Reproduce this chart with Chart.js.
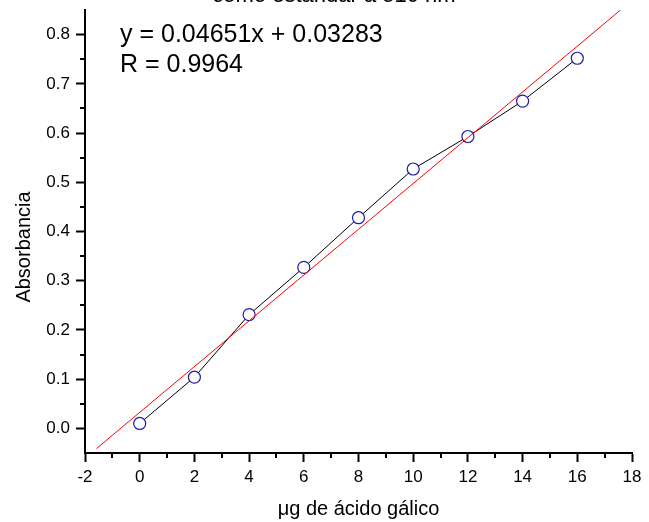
<!DOCTYPE html>
<html>
<head>
<meta charset="utf-8">
<script src="https://cdn.jsdelivr.net/npm/chart.js@4/dist/chart.umd.min.js"></script>
<style>
    html, body { margin: 0; padding: 0; background: #fff; }
    #wrap { width: 649px; height: 522px; }
</style>
</head>
<body>
<div id="wrap"><canvas id="grafico"></canvas></div>
<script>
// datos
const concentracion = [0, 2, 4, 6, 8, 10, 12, 14, 16];
const absorbancia = [0.010, 0.104, 0.231, 0.327, 0.428, 0.527, 0.593, 0.665, 0.752];
const ajusteX = [-1.58, 17.58];
const ajusteY = [-0.041, 0.850];
const xTicks = [-2, 0, 2, 4, 6, 8, 10, 12, 14, 16, 18];
const yTicks = [0.0, 0.1, 0.2, 0.3, 0.4, 0.5, 0.6, 0.7, 0.8];
const xMinor = [-1, 1, 3, 5, 7, 9, 11, 13, 15, 17];
const yMinor = [0.05, 0.15, 0.25, 0.35, 0.45, 0.55, 0.65, 0.75];

const fuente = "'Liberation Sans', Arial, sans-serif";

const extras = {
    id: "extras",
    afterDraw(chart) {
        const ctx = chart.ctx;
        const xs = chart.scales.x;
        const ys = chart.scales.y;
        const area = chart.chartArea;
        ctx.save();
        ctx.strokeStyle = "#000";
        ctx.lineWidth = 2;
        xMinor.forEach(function (v) {
            const px = Math.round(xs.getPixelForValue(v));
            ctx.beginPath();
            ctx.moveTo(px, area.bottom);
            ctx.lineTo(px, area.bottom + 5);
            ctx.stroke();
        });
        yMinor.forEach(function (v) {
            const py = Math.round(ys.getPixelForValue(v));
            ctx.beginPath();
            ctx.moveTo(area.left - 5, py);
            ctx.lineTo(area.left, py);
            ctx.stroke();
        });

        ctx.fillStyle = "#000";
        ctx.textBaseline = "alphabetic";
        // titulo cortado arriba
        ctx.font = "22px " + fuente;
        ctx.textAlign = "center";
        ctx.fillText("como estándar a 510 nm", 334, 1.5);

        // ecuacion del ajuste
        ctx.font = "25px " + fuente;
        ctx.textAlign = "left";
        ctx.fillText("y = 0.04651x + 0.03283", 120, 42);
        ctx.fillText("R = 0.9964", 120, 71.5);

        // titulo eje y
        ctx.font = "20px " + fuente;
        ctx.translate(24, 247);
        ctx.rotate(-Math.PI / 2);
        ctx.textAlign = "center";
        ctx.textBaseline = "middle";
        ctx.fillText("Absorbancia", 0, 0);
        ctx.restore();
    },
};

const ctx = document.getElementById("grafico").getContext("2d");

new Chart(ctx, {
    type: "scatter",
    data: {
        datasets: [
            {
                label: "Ajuste",
                data: ajusteX.map((x, i) => ({ x: x, y: ajusteY[i] })),
                showLine: true,
                borderColor: "#ff0000",
                borderWidth: 1,
                pointRadius: 0,
                fill: false,
            },
            {
                label: "Datos",
                data: concentracion.map((x, i) => ({ x: x, y: absorbancia[i] })),
                showLine: true,
                borderColor: "#000000",
                borderWidth: 1,
                pointRadius: 6,
                pointBorderColor: "#1f1f9e",
                pointBackgroundColor: "#ffffff",
                pointBorderWidth: 1.2,
                fill: false,
            },
        ],
    },
    options: {
        responsive: true,
        maintainAspectRatio: false,
        animation: false,
        layout: {
            padding: { top: 10, right: 17, left: 0, bottom: 0 },
        },
        plugins: {
            legend: { display: false },
            tooltip: { enabled: false },
        },
        scales: {
            x: {
                type: "linear",
                min: -2,
                max: 18,
                afterBuildTicks: function (scale) {
                    scale.ticks = xTicks.map((v) => ({ value: v }));
                },
                afterFit: function (scale) {
                    scale.height = 69;
                    scale.paddingLeft = 0;
                    scale.paddingRight = 0;
                },
                border: { display: true, color: "#000", width: 2 },
                grid: {
                    drawOnChartArea: false,
                    drawTicks: true,
                    tickLength: 9,
                    tickWidth: 2,
                    tickColor: "#000",
                },
                ticks: {
                    color: "#000",
                    padding: 5,
                    maxRotation: 0,
                    font: { family: fuente, size: 17 },
                },
                title: {
                    display: true,
                    text: "μg de ácido gálico",
                    color: "#000",
                    font: { family: fuente, size: 20 },
                    padding: { top: 0, bottom: 1 },
                },
            },
            y: {
                type: "linear",
                min: -0.05,
                max: 0.85,
                afterBuildTicks: function (scale) {
                    scale.ticks = yTicks.map((v) => ({ value: v }));
                },
                afterFit: function (scale) {
                    scale.width = 85;
                    scale.paddingTop = 0;
                    scale.paddingBottom = 0;
                },
                border: { display: true, color: "#000", width: 2 },
                grid: {
                    drawOnChartArea: false,
                    drawTicks: true,
                    tickLength: 9,
                    tickWidth: 2,
                    tickColor: "#000",
                },
                ticks: {
                    color: "#000",
                    padding: 6,
                    font: { family: fuente, size: 17 },
                    callback: function (v) {
                        return v.toFixed(1);
                    },
                },
            },
        },
    },
    plugins: [extras],
});
</script>
</body>
</html>
